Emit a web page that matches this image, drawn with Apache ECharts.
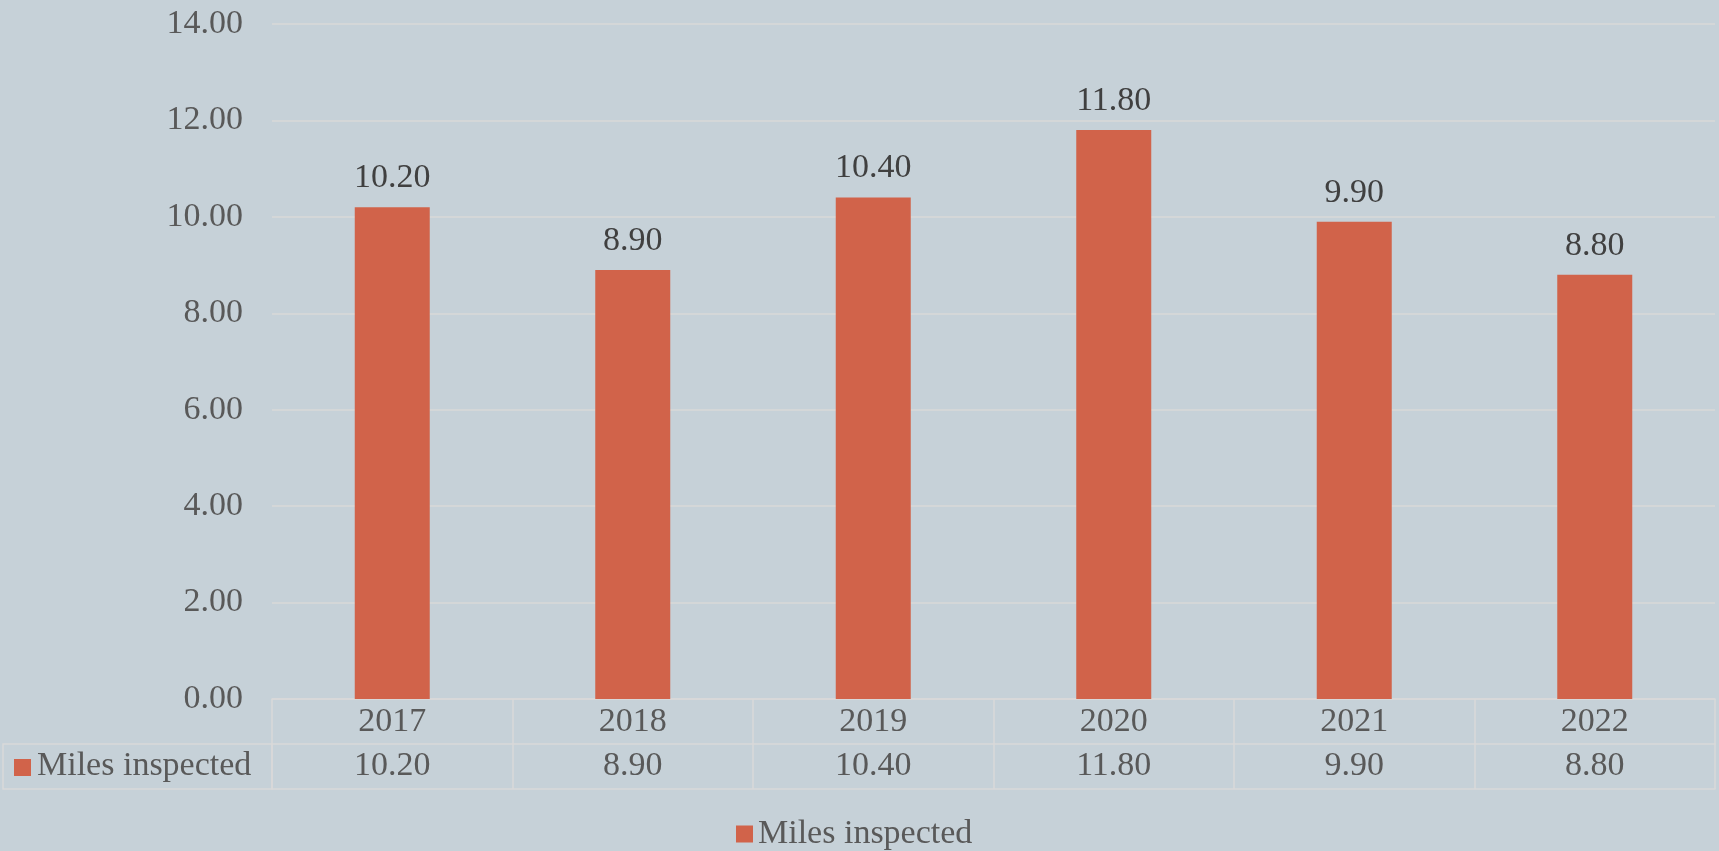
<!DOCTYPE html>
<html>
<head>
<meta charset="utf-8">
<script src="https://cdn.jsdelivr.net/npm/echarts@6/dist/echarts.min.js"></script>
<style>
html,body{margin:0;padding:0;background:#C6D1D8;}
#chart{width:1719px;height:851px;}
</style>
</head>
<body>
<div id="chart"></div>
<script>
const categories = ['2017', '2018', '2019', '2020', '2021', '2022'];
const milesInspected = [10.2, 8.9, 10.4, 11.8, 9.9, 8.8];
const seriesName = 'Miles inspected';
const yMin = 0, yMax = 14, yStep = 2;

const FONT = '"Liberation Serif", "Times New Roman", serif';
const AXIS_COLOR = '#595959';
const LINE_COLOR = '#D9D9D9';
const BAR_COLOR = '#D1634A';

const chart = echarts.init(document.getElementById('chart'));
chart.setOption({
  backgroundColor: '#C6D1D8',
  animation: false,
  textStyle: { fontFamily: FONT },
  grid: { left: 272, right: 4, top: 24, bottom: 152, containLabel: false },
  legend: {
    data: [seriesName],
    left: 731,
    top: 812,
    icon: 'rect',
    itemWidth: 17,
    itemHeight: 17,
    textStyle: { fontFamily: FONT, fontSize: 34, color: AXIS_COLOR, lineHeight: 34 }
  },
  xAxis: [
    {
      type: 'category',
      data: categories,
      position: 'bottom',
      axisLine: { show: true, lineStyle: { color: LINE_COLOR, width: 1.5 } },
      axisTick: { show: true, length: 45, interval: 0, lineStyle: { color: LINE_COLOR, width: 1.5 } },
      axisLabel: { fontFamily: FONT, fontSize: 34, color: AXIS_COLOR, margin: 6, lineHeight: 34, interval: 0 },
      splitLine: { show: false }
    },
    {
      type: 'category',
      data: milesInspected.map(v => v.toFixed(2)),
      position: 'bottom',
      offset: 45,
      axisLine: { show: true, lineStyle: { color: LINE_COLOR, width: 1.5 } },
      axisTick: { show: true, length: 45, interval: 0, lineStyle: { color: LINE_COLOR, width: 1.5 } },
      axisLabel: { fontFamily: FONT, fontSize: 34, color: AXIS_COLOR, margin: 5, lineHeight: 34, interval: 0 },
      splitLine: { show: false }
    },
    {
      type: 'category',
      data: categories,
      position: 'bottom',
      offset: 90,
      axisLine: { show: true, lineStyle: { color: LINE_COLOR, width: 1.5 } },
      axisTick: { show: false },
      axisLabel: { show: false },
      splitLine: { show: false }
    }
  ],
  yAxis: {
    type: 'value',
    min: yMin,
    max: yMax,
    interval: yStep,
    axisLine: { show: false },
    axisTick: { show: false },
    axisLabel: {
      fontFamily: FONT, fontSize: 34, color: AXIS_COLOR, margin: 29,
      formatter: v => v.toFixed(2)
    },
    splitLine: { show: true, lineStyle: { color: LINE_COLOR, width: 1.5 } }
  },
  series: [
    {
      name: seriesName,
      type: 'bar',
      xAxisIndex: 0,
      data: milesInspected,
      barWidth: 75,
      itemStyle: { color: BAR_COLOR },
      label: {
        show: true,
        position: 'top',
        distance: 12,
        fontFamily: FONT,
        fontSize: 34,
        color: '#404040',
        formatter: p => p.value.toFixed(2)
      }
    }
  ],
  graphic: [
    {
      type: 'rect',
      shape: { x: 3, y: 744, width: 269, height: 45 },
      style: { fill: 'none', stroke: LINE_COLOR, lineWidth: 1.5 },
      silent: true
    },
    {
      type: 'rect',
      shape: { x: 14, y: 759, width: 17, height: 17 },
      style: { fill: BAR_COLOR },
      silent: true
    },
    {
      type: 'text',
      x: 37,
      y: 766.5,
      style: {
        text: seriesName,
        fontFamily: FONT,
        fontSize: 34,
        fill: AXIS_COLOR,
        textVerticalAlign: 'middle',
        verticalAlign: 'middle'
      },
      silent: true
    }
  ]
});
</script>
</body>
</html>
